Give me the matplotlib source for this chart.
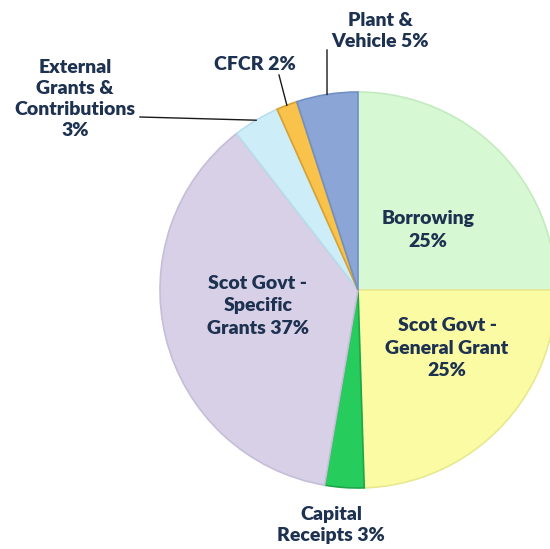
import matplotlib.pyplot as plt
import numpy as np

# shares (clockwise from 12 o'clock)
names = ["Borrowing", "Scot Govt - General Grant", "Capital Receipts",
         "Scot Govt - Specific Grants", "External Grants & Contributions",
         "CFCR", "Plant & Vehicle"]
shares = [25.0, 24.5, 3.2, 36.8, 3.8, 1.7, 5.0]
labels = ["Borrowing\n25%", "Scot Govt -\nGeneral Grant\n25%", "Capital\nReceipts 3%",
          "Scot Govt -\nSpecific\nGrants 37%", "External\nGrants &\nContributions\n3%",
          "CFCR 2%", "Plant &\nVehicle 5%"]
colors = ["#d6f8d2", "#fbfba4", "#26cc5c", "#d8d0e6", "#cdeef8", "#f9c24a", "#8ba6d6"]
edges = ["#c4eabf", "#e8e890", "#1ea64a", "#c6bdd8", "#b8deec", "#d9a032", "#7290c4"]

W, H = 550, 549
fig = plt.figure(figsize=(W / 100, H / 100), dpi=100)
ax = fig.add_axes([0, 0, 1, 1])

cx, cy, r = 358, H - 290, 198
wedges, _ = ax.pie(shares, colors=colors, startangle=90, counterclock=False,
                   center=(cx, cy), radius=r, frame=True,
                   wedgeprops=dict(linewidth=1.2))
for w, e in zip(wedges, edges):
    w.set_edgecolor(e)
ax.set_xlim(0, W)
ax.set_ylim(0, H)
ax.set_aspect("equal")
ax.axis("off")

txt = dict(fontsize=14, fontweight="heavy", color="#1d3150", ha="center",
           va="center", family=["Lato", "DejaVu Sans"], linespacing=1.3)

# label positions (pixels from top-left)
inside = {0: (428, 230), 1: (447, 348), 3: (258, 306)}
for i, (x, y) in inside.items():
    ax.text(x, H - y, labels[i], **dict(txt, linespacing=1.4))

ax.text(331, H - 525, labels[2], **txt)

outside = {4: ((75, 99), (140, 117)), 5: ((255, 64), (279, 75)), 6: ((380, 31), (327, 50))}
for i, ((tx, ty), (lx, ly)) in outside.items():
    ax.text(tx, H - ty, labels[i], **txt)
    mid = np.deg2rad((wedges[i].theta1 + wedges[i].theta2) / 2)
    ex, ey = cx + r * np.cos(mid), cy + r * np.sin(mid)
    ax.plot([lx, ex], [H - ly, ey], color="#1a1a1a", lw=1)

fig.savefig("out.png", dpi=100, facecolor="white")
